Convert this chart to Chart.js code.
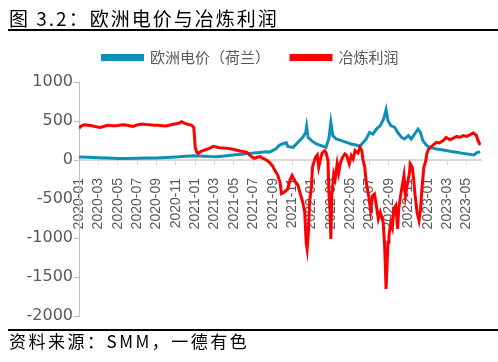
<!DOCTYPE html>
<html>
<head>
<meta charset="utf-8">
<script src="https://cdn.jsdelivr.net/npm/chart.js@4"></script>
<style>
  body { margin: 0; width: 498px; height: 362px; position: relative; background: #fff; overflow: hidden; }
  #title { position: absolute; left: 9px; top: 4px; font: 19px "Noto Sans CJK SC"; letter-spacing: 2px; color: #000; white-space: nowrap; }
  #source { position: absolute; left: 9px; font: 17px "Noto Sans CJK SC"; letter-spacing: 2.5px; color: #000; white-space: nowrap; }
  .rule { position: absolute; left: 8px; width: 490px; height: 2px; background: #000; }
  #chart { position: absolute; left: 0; top: 0; }
</style>
</head>
<body>
<canvas id="chart" width="498" height="362"></canvas>
<div id="title">图 3.2：欧洲电价与冶炼利润</div>
<div class="rule" style="top:29px"></div>
<div class="rule" style="top:329px"></div>
<div id="source" style="top:328px">资料来源：SMM，一德有色</div>
<script>
// Tick labels on x axis (every 2 months starting 2020-01)
const xTickLabels = [
  "2020-01", "2020-03", "2020-05", "2020-07", "2020-09", "2020-11",
  "2021-01", "2021-03", "2021-05", "2021-07", "2021-09", "2021-11",
  "2022-01", "2022-03", "2022-05", "2022-07", "2022-09", "2022-11",
  "2023-01", "2023-03", "2023-05"
];

// x = months since 2020-01
const powerMonths = [0, 1, 2, 3, 4, 5, 6, 7, 8, 9, 10, 11, 12, 12.5, 13.5, 14.2, 15, 15.9, 16.8, 17.6, 18.5, 19.35, 19.66,
  20.3, 20.7, 21, 21.4, 21.55, 22.1, 22.6, 23.1, 23.4, 23.5, 23.65, 24, 24.5, 25, 25.5, 25.8, 26, 26.2, 26.55,
  27.1, 27.6, 28.1, 28.6, 29, 29.2, 29.65, 30, 30.35, 30.7, 31.1, 31.45, 31.7, 31.9, 32.2, 32.6, 32.9, 33.3,
  33.6, 34, 34.3, 34.65, 35, 35.25, 35.5, 35.9, 36.2, 36.9, 37.6, 38.3, 39, 39.65, 40.3, 40.8, 41, 41.4];
const powerValues = [40, 35, 30, 25, 20, 18, 22, 25, 26, 32, 40, 48, 55, 51, 45, 43, 52, 64, 75, 85, 95, 107, 100,
  141, 192, 205, 222, 175, 162, 226, 290, 354, 431, 290, 248, 205, 184, 162, 278, 482, 312, 269,
  248, 226, 205, 192, 175, 205, 269, 354, 333, 397, 440, 525, 645, 504, 440, 418, 354, 290,
  269, 312, 269, 333, 397, 354, 248, 184, 162, 141, 128, 111, 98, 85, 73, 64, 90, 107];

const profitMonths = [0, 0.3, 0.6, 1, 1.3, 1.8, 2.2, 2.6, 3, 3.5, 3.9, 4.3, 4.7, 5.2, 5.6, 6, 6.5, 6.9, 7.3, 7.8,
  8.2, 8.6, 9, 9.5, 9.9, 10.3, 10.6, 11.1, 11.6, 11.85, 12, 12.15, 12.3, 12.6, 12.8, 13.3, 13.85, 14.5, 15.2,
  15.9, 16.6, 17.3, 17.8, 18.1, 18.4, 18.7, 19, 19.35, 19.66, 20, 20.3, 20.5, 20.76, 20.9, 21.2, 21.55, 21.8,
  22, 22.24, 22.6, 22.8, 23.1, 23.3, 23.45, 23.55, 23.7, 23.8, 24, 24.1, 24.4, 24.6, 24.75, 24.9, 25.1, 25.35,
  25.5, 25.7, 25.8, 25.9, 26, 26.1, 26.3, 26.45, 26.65, 26.8, 27, 27.2, 27.45, 27.65, 27.9, 28.1, 28.3, 28.5,
  28.8, 29, 29.2, 29.3, 29.5, 29.65, 29.9, 30.1, 30.3, 30.5, 30.7, 30.9, 31.1, 31.4, 31.55, 31.7, 31.9, 32,
  32.2, 32.35, 32.5, 32.7, 32.9, 33, 33.2, 33.4, 33.55, 33.7, 33.9, 34.1, 34.2, 34.4, 34.55, 34.7, 34.9, 35.1,
  35.25, 35.4, 35.6, 35.8, 35.9, 36.1, 36.3, 36.55, 36.9, 37.2, 37.6, 37.9, 38.3, 38.6, 39, 39.3, 39.7, 40,
  40.3, 40.7, 41, 41.2, 41.4];
const profitValues = [410, 440, 452, 445, 440, 425, 418, 432, 444, 438, 440, 448, 452, 440, 431, 450, 461, 455, 452, 446,
  444, 440, 435, 452, 461, 470, 491, 461, 448, 418, 162, 100, 85, 110, 120, 141, 175, 158, 150,
  137, 115, 102, 43, 21, 35, 43, 20, 0, -30, -80, -150, -190, -290, -430, -410, -370, -250,
  -200, -265, -320, -414, -542, -670, -1055, -1140, -884, -542, -329, -94, 34, 64, -94, -9, 90, 120,
  98, -9, -414, -628, -1012, -457, -180, -243, -51, -167, -30, 34, 77, 55, -51, 55, 13, 120,
  90, 162, 120, 13, -94, -286, -457, -649, -457, -435, -585, -756, -670, -798, -1097, -1652, -1055, -969,
  -798, -863, -628, -585, -884, -628, -457, -307, -200, -457, -307, -180, -51, -94, -243, -457, -670, -777,
  -649, -371, -94, -9, 77, 141, 162, 192, 226, 218, 248, 290, 260, 278, 303, 290, 312, 303,
  320, 346, 320, 248, 192];

const toPoints = (xs, ys) => xs.map((x, i) => ({ x: x, y: ys[i] }));

const GREY = "#595959";

// extra space under the legend
const legendGap = {
  id: "legendGap",
  beforeLayout(chart) {
    const lg = chart.legend;
    if (!lg || lg._gapPatched) return;
    const fit = lg.fit;
    lg.fit = function () { fit.call(this); this.height += 7; };
    lg._gapPatched = true;
  }
};

new Chart(document.getElementById("chart"), {
  type: "line",
  data: {
    datasets: [
      { label: "欧洲电价（荷兰）", data: toPoints(powerMonths, powerValues), borderColor: "#1190b6", backgroundColor: "#1190b6",
        borderWidth: 3, pointRadius: 0, tension: 0, order: 1 },
      { label: "冶炼利润", data: toPoints(profitMonths, profitValues), borderColor: "#ff0000", backgroundColor: "#ff0000",
        borderWidth: 3, pointRadius: 0, tension: 0, order: 0 }
    ]
  },
  plugins: [legendGap],
  options: {
    responsive: false,
    animation: false,
    layout: { padding: { top: 29, left: 20, right: 17, bottom: 46 } },
    plugins: {
      legend: {
        position: "top",
        labels: {
          boxWidth: 40, boxHeight: 4, padding: 21, color: GREY,
          font: { family: "Noto Sans CJK SC", size: 15 },
          sort: (a, b) => a.datasetIndex - b.datasetIndex
        }
      },
      tooltip: { enabled: false }
    },
    scales: {
      x: {
        type: "linear", min: 0, max: 41.5, position: { y: 0 },
        ticks: {
          stepSize: 2, includeBounds: false, autoSkip: false, minRotation: 90, maxRotation: 90, padding: 14,
          color: GREY, font: { family: "Liberation Sans", size: 14 },
          callback: v => xTickLabels[v / 2] ?? ""
        },
        grid: { drawOnChartArea: false, tickLength: 4, color: "#d9d9d9" },
        border: { color: "#d9d9d9", width: 2 }
      },
      y: {
        min: -2000, max: 1000,
        ticks: { stepSize: 500, color: GREY, padding: 1, font: { family: "DejaVu Sans", size: 16 },
          callback: v => String(v) },
        grid: { drawOnChartArea: false, tickLength: 5, color: "#bfbfbf" },
        border: { color: "#bfbfbf" },
        afterFit: s => { s.width = 59; }
      }
    }
  }
});
</script>
</body>
</html>
